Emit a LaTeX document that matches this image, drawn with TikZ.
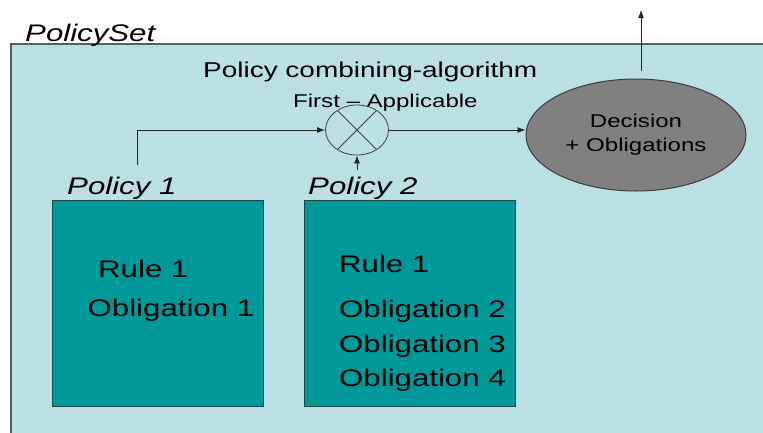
\documentclass[tikz,border=0pt]{standalone}
\usepackage{fontspec}
\setmainfont[FakeStretch=1.3]{Liberation Sans}
\usetikzlibrary{shapes.geometric,arrows.meta}

\definecolor{setbg}{RGB}{187,224,227}
\definecolor{setedge}{RGB}{85,95,100}
\definecolor{tealfill}{RGB}{0,153,153}
\definecolor{boxedge}{RGB}{30,70,70}
\definecolor{decfill}{RGB}{128,128,128}
\definecolor{decedge}{RGB}{60,60,60}

\begin{document}
\begin{tikzpicture}[x=1pt,y=-1pt,
  txt/.style={inner sep=0pt,anchor=base west,font=\fontsize{24}{28}\selectfont},
  lbl/.style={inner sep=0pt,anchor=base west,font=\fontsize{24}{29}\selectfont\itshape},
  policybox/.style={draw=boxedge,fill=tealfill,line width=0.9pt,inner sep=0pt,
    minimum width=211,minimum height=206,anchor=north west},
  arr/.style={-{Latex[length=8pt,width=6pt]},line width=0.8pt,draw=black!85}]
\useasboundingbox (0,0) rectangle (763,432);
\clip (0,0) rectangle (763,432);
\fill[white] (0,0) rectangle (763,432);

% the enclosing policy set
\draw[fill=setbg,draw=setedge,line width=1.2pt] (11,44) rectangle (790,460);
\node[lbl] (setlbl) at (25,41) {PolicySet};

% combining algorithm
\node[inner sep=0pt,anchor=base west,font=\fontsize{21.5}{26}\selectfont] (algo) at (203,77) {Policy combining-algorithm};
\node[inner sep=0pt,anchor=base west,font=\fontsize{18.5}{22}\selectfont] (first) at (293,107) {First – Applicable};
\node[draw=black!75,ellipse,minimum width=63,minimum height=50,inner sep=0pt,line width=0.8pt] (comb) at (357,130) {};
\draw[draw=black!75,line width=0.8pt] (comb.45) -- (comb.225) (comb.135) -- (comb.315);

% decision
\node[ellipse,draw=decedge,fill=decfill,minimum width=220,minimum height=112,inner sep=0pt,line width=1pt,
  align=center,font=\fontsize{18.5}{24}\selectfont] (dec) at (636,135) {Decision\\+ Obligations};

% policies
\node[lbl] (p1lbl) at (67,194) {Policy 1};
\node[lbl] (p2lbl) at (308,194) {Policy 2};
\node[policybox] (pol1) at (52,200) {};
\node[policybox] (pol2) at (304,200) {};

\node[txt] (r1) at (98,277) {Rule 1};
\node[txt] (o1) at (87.5,316) {Obligation 1};
\node[txt] (r2) at (339,272) {Rule 1};
\node[txt] (o2) at (339,317) {Obligation 2};
\node[txt] (o3) at (339,352) {Obligation 3};
\node[txt] (o4) at (339,386) {Obligation 4};

% connectors
\coordinate (p1src) at (137,165);
\coordinate (p2src) at (357,170);
\coordinate (decout) at (641,71);
\coordinate (setout) at (641,10);
\draw[arr] (p1src) |- (comb.west);
\draw[arr] (p2src) -- (comb.south);
\draw[arr] (comb.east) -- (comb.east -| dec.west);
\draw[arr] (decout) -- (setout);
\end{tikzpicture}
\end{document}
